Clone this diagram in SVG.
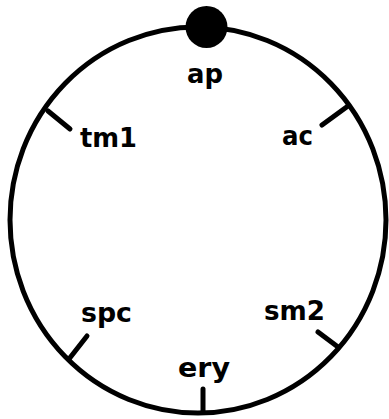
<svg xmlns="http://www.w3.org/2000/svg" width="389" height="419" viewBox="0 0 389 419">
<style>
.ln{fill:none;stroke:#000;stroke-width:5;stroke-linecap:round}
.lb{font-family:"DejaVu Sans","Liberation Sans",sans-serif;font-weight:bold;font-size:27px;fill:#000}
</style>
<rect width="389" height="419" fill="#fff"/>
<g id="ring"><ellipse class="ln" cx="198" cy="220" rx="188" ry="193"/></g>
<g id="connectors">
<line class="ln" x1="48" y1="111" x2="70" y2="129"/>
<line class="ln" x1="348" y1="106" x2="322" y2="125"/>
<line class="ln" x1="69" y1="359" x2="87" y2="336"/>
<line class="ln" x1="338" y1="347" x2="318" y2="332"/>
<line class="ln" x1="203" y1="389" x2="203" y2="412"/>
</g>
<g id="ap"><circle cx="206.5" cy="27" r="21" fill="#000"/><text class="lb" x="187" y="83" textLength="36" lengthAdjust="spacingAndGlyphs">ap</text></g>
<g id="tm1"><text class="lb" x="80" y="147" textLength="57" lengthAdjust="spacingAndGlyphs">tm1</text></g>
<g id="ac"><text class="lb" x="282" y="145" textLength="31" lengthAdjust="spacingAndGlyphs">ac</text></g>
<g id="spc"><text class="lb" x="81" y="322" textLength="51" lengthAdjust="spacingAndGlyphs">spc</text></g>
<g id="sm2"><text class="lb" x="264" y="320" textLength="61" lengthAdjust="spacingAndGlyphs">sm2</text></g>
<g id="ery"><text class="lb" x="178" y="377" textLength="52" lengthAdjust="spacingAndGlyphs">ery</text></g>
</svg>
